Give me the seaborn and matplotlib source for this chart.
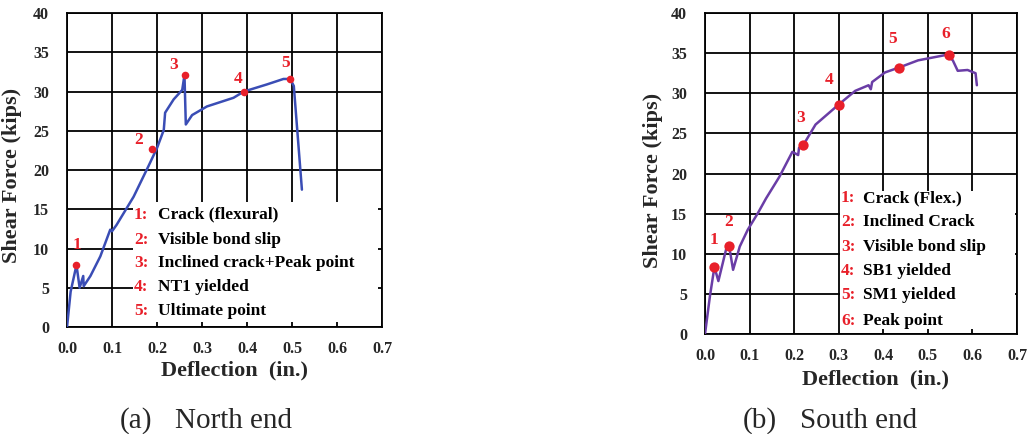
import matplotlib
matplotlib.use("Agg")
import matplotlib.pyplot as plt
import seaborn as sns
import pandas as pd
from matplotlib.patches import Rectangle

# ---------------- data ----------------
north_x = [0.0, 0.008, 0.021, 0.028, 0.036, 0.037, 0.052, 0.074, 0.096, 0.100, 0.110,
           0.148, 0.181, 0.200, 0.215, 0.218, 0.237, 0.256, 0.261, 0.264, 0.278, 0.311,
           0.370, 0.393, 0.444, 0.481, 0.496, 0.504, 0.522]
north_y = [0.0, 4.5, 7.9, 5.0, 6.5, 5.2, 6.5, 9.0, 12.4, 12.2, 13.0,
           16.6, 20.5, 22.8, 25.1, 27.3, 29.0, 30.2, 32.1, 25.8, 27.0, 28.1,
           29.2, 30.0, 30.9, 31.6, 31.6, 30.7, 17.5]
north_pt_x = [0.021, 0.189, 0.263, 0.393, 0.496]
north_pt_y = [7.9, 22.7, 32.1, 30.0, 31.6]
north_lbl_x = [0.021, 0.160, 0.236, 0.380, 0.485]
north_lbl_y = [9.4, 22.8, 32.4, 30.6, 32.6]
north_legend = ["Crack (flexural)", "Visible bond slip", "Inclined crack+Peak point",
                "NT1 yielded", "Ultimate point"]

south_x = [0.0, 0.011, 0.021, 0.026, 0.030, 0.048, 0.054, 0.063, 0.078, 0.096, 0.119,
           0.137, 0.167, 0.196, 0.209, 0.211, 0.220, 0.248, 0.300, 0.337, 0.367, 0.372,
           0.375, 0.404, 0.435, 0.478, 0.543, 0.556, 0.567, 0.589, 0.607, 0.610]
south_y = [0.0, 4.7, 8.3, 7.4, 6.6, 10.7, 11.0, 8.0, 10.9, 13.0, 15.1,
           16.9, 19.6, 22.7, 22.3, 23.2, 23.5, 26.1, 28.6, 30.3, 31.0, 30.5,
           31.4, 32.6, 33.2, 34.1, 34.8, 34.1, 32.8, 32.9, 32.5, 31.0]
south_pt_x = [0.021, 0.054, 0.220, 0.300, 0.435, 0.548]
south_pt_y = [8.3, 11.0, 23.5, 28.6, 33.2, 34.8]
south_lbl_x = [0.021, 0.053, 0.215, 0.279, 0.420, 0.541]
south_lbl_y = [10.7, 13.0, 25.9, 30.7, 35.8, 36.4]
south_legend = ["Crack (Flex.)", "Inclined Crack", "Visible bond slip",
                "SB1 yielded", "SM1 yielded", "Peak point"]

x_ticks = [0.0, 0.1, 0.2, 0.3, 0.4, 0.5, 0.6, 0.7]
y_ticks = [0, 5, 10, 15, 20, 25, 30, 35, 40]
captions = [("(a)", "North end"), ("(b)", "South end")]

# ---------------- style ----------------
sns.set_theme(style="white")
plt.rcParams['font.family'] = ['Liberation Serif', 'DejaVu Serif']
plt.rcParams['font.weight'] = 'bold'

fig = plt.figure(figsize=(10.28, 4.34), dpi=100)
axL = fig.add_axes([0.0652, 0.2465, 0.3064, 0.7235])
axR = fig.add_axes([0.6858, 0.2304, 0.3035, 0.7396])

RED = "#e8202a"


def setup(ax):
    ax.set_xlim(0, 0.7)
    ax.set_ylim(0, 40)
    ax.set_xticks(x_ticks)
    ax.set_yticks(y_ticks)
    ax.set_xticklabels([f"{t:.1f}" for t in x_ticks], fontsize=11.5, fontweight='bold')
    ax.set_yticklabels([str(t) for t in y_ticks], fontsize=11.5, fontweight='bold')
    ax.set_axisbelow(True)
    ax.grid(True, color='black', linewidth=1.3)
    ax.tick_params(axis='both', direction='in', length=4, width=1.2, color='black')
    ax.tick_params(axis='y', pad=13)
    ax.tick_params(axis='x', pad=10)
    for s in ax.spines.values():
        s.set_color('black')
        s.set_linewidth(1.3)
        s.set_visible(True)
    ax.set_ylabel("Shear Force (kips)", fontsize=16, fontweight='bold')
    ax.set_xlabel("Deflection  (in.)", fontsize=16, fontweight='bold')


def draw(ax, xs, ys, px, py, lx, ly, color, msize, legend, box, row_y, gap):
    setup(ax)
    df = pd.DataFrame({"x": xs, "y": ys})
    sns.lineplot(data=df, x="x", y="y", sort=False, estimator=None, ax=ax,
                 color=color, linewidth=1.8, zorder=3)
    dp = pd.DataFrame({"x": px, "y": py})
    sns.scatterplot(data=dp, x="x", y="y", ax=ax, color=RED, s=msize,
                    edgecolor=RED, linewidth=0, zorder=4)
    for i, (a, b) in enumerate(zip(lx, ly)):
        ax.text(a, b, str(i + 1), color=RED, fontsize=12.5, fontweight='bold',
                ha='center', va='bottom', zorder=5)
    x0, y0, w, h = box
    ax.add_patch(Rectangle((x0, y0), w, h, facecolor='white', edgecolor='none', zorder=1))
    for i, (t, yy) in enumerate(zip(legend, row_y)):
        ax.annotate(f"{i + 1}:", (x0 + 0.002, yy), color=RED, fontsize=12.5,
                    fontweight='bold', va='center', ha='left', zorder=5)
        ax.annotate(t, (x0 + 0.002, yy), xytext=(gap, 0), textcoords='offset points',
                    color='black', fontsize=12.5, fontweight='bold', va='center',
                    ha='left', zorder=5)


draw(axL, north_x, north_y, north_pt_x, north_pt_y, north_lbl_x, north_lbl_y,
     "#3a4db5", 30, north_legend, (0.147, 0.6, 0.545, 15.3),
     [14.3, 11.1, 8.1, 5.1, 2.1], 17)
draw(axR, south_x, south_y, south_pt_x, south_pt_y, south_lbl_x, south_lbl_y,
     "#6a3da6", 55, south_legend, (0.303, 0.6, 0.392, 17.2),
     [16.9, 13.9, 10.8, 7.8, 4.8, 1.6], 16)

axL.yaxis.set_label_coords(-0.143, 0.482)
axL.xaxis.set_label_coords(0.533, -0.108)
axR.yaxis.set_label_coords(-0.136, 0.477)
axR.xaxis.set_label_coords(0.548, -0.11)

# captions
yb = 1 - 428 / 434
fig.text(120 / 1028, yb, captions[0][0], fontsize=21, fontweight='normal',
         ha='left', va='baseline')
fig.text(175 / 1028, yb, captions[0][1], fontsize=21, fontweight='normal',
         ha='left', va='baseline')
fig.text(743 / 1028, yb, captions[1][0], fontsize=21, fontweight='normal',
         ha='left', va='baseline')
fig.text(800 / 1028, yb, captions[1][1], fontsize=21, fontweight='normal',
         ha='left', va='baseline')

fig.savefig("out.png", dpi=100, facecolor='white')
